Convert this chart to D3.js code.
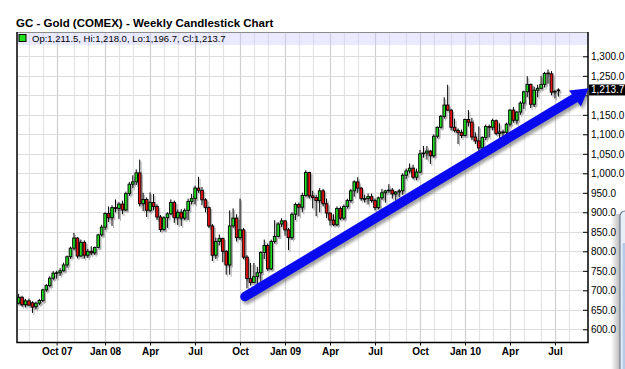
<!DOCTYPE html>
<html>
<head>
<meta charset="utf-8">
<script src="https://cdn.jsdelivr.net/npm/d3@7"></script>
<style>
body { margin: 0; background: #fff; }
svg { display: block; font-family: Arial, "Liberation Sans", sans-serif; }
</style>
</head>
<body>
<svg id="canvas" width="625" height="369"></svg>
<script>
// weekly bars, the first one is the week of Mon 16 Jul 2007
var firstWeek = new Date(2007, 6, 16);

var opens = [
	667,682,663,673,668,658,667,674,701,712,
	731,744,745,750,765,786,808,834,788,823,
	790,800,796,810,842,862,897,886,912,910,
	921,906,948,972,978,1001,922,933,905,925,
	915,888,856,886,896,925,886,900,885,905,
	928,935,962,956,932,912,865,790,825,833,
	800,765,865,885,835,855,785,730,720,735,
	745,797,815,755,825,838,870,878,855,835,
	895,920,913,943,1002,942,938,930,955,922,
	898,880,868,910,885,915,930,955,978,962,
	935,935,940,930,912,937,950,955,957,947,
	952,955,995,1006,1013,990,1003,1050,1052,1057,
	1045,1095,1118,1146,1175,1162,1118,1110,1105,1097,
	1138,1131,1093,1083,1065,1092,1120,1118,1135,1102,
	1106,1105,1126,1162,1136,1157,1180,1209,1228,1177,
	1213,1218,1228,1257,1255,1208,1211.5
];
var highs = [
	691,686,678,679,672,671,678,704,716,736,
	749,750,757,771,789,812,847,836,830,828,
	806,813,812,845,868,900,915,918,933,926,
	930,953,978,995,1010,1035,950,938,951,947,
	920,893,890,900,933,930,907,908,910,935,
	947,968,991,965,936,915,870,835,843,835,
	803,905,910,895,935,860,790,770,770,760,
	800,830,820,830,880,875,885,880,860,900,
	925,925,950,1008,1004,955,945,962,960,935,
	900,895,915,915,920,935,960,982,990,965,
	945,948,948,935,940,960,958,972,962,955,
	960,1000,1012,1025,1022,1012,1060,1070,1070,1060,
	1100,1120,1150,1195,1227,1165,1140,1115,1112,1140,
	1162,1142,1105,1120,1095,1125,1125,1140,1138,1128,
	1112,1130,1165,1170,1160,1185,1212,1249,1230,1222,
	1227,1250,1260,1266,1262,1214,1218
];
var lows = [
	664,658,656,660,642,651,662,670,696,708,
	726,730,737,748,758,781,803,782,786,781,
	783,790,791,808,838,855,875,865,900,883,
	895,903,942,962,970,915,903,888,900,905,
	880,850,853,860,893,873,867,865,880,880,
	920,920,950,918,900,860,775,780,815,772,
	740,740,860,825,830,780,705,712,718,710,
	712,780,750,752,820,836,862,840,803,830,
	880,890,900,940,935,910,890,900,915,885,
	866,865,865,880,880,910,925,940,950,930,
	925,920,925,905,908,932,925,950,935,930,
	938,945,985,1000,985,982,1000,1040,1035,1024,
	1040,1090,1115,1140,1160,1110,1105,1075,1090,1095,
	1120,1085,1075,1045,1060,1085,1092,1110,1098,1085,
	1085,1100,1120,1130,1125,1150,1165,1195,1167,1170,
	1195,1215,1220,1230,1200,1192,1196.7
];
var closes = [
	682,663,673,662,657,667,674,701,712,731,
	744,745,750,765,786,808,834,788,823,790,
	800,796,810,842,862,897,886,912,910,921,
	906,948,972,978,1001,922,933,905,925,915,
	888,856,886,896,925,886,900,885,905,928,
	935,962,956,932,912,865,790,825,833,800,
	765,865,885,835,855,785,730,720,735,745,
	797,815,755,825,838,870,878,855,835,895,
	920,913,943,1002,942,938,930,955,922,898,
	880,868,910,885,915,930,955,978,962,935,
	935,940,930,912,937,950,955,957,947,952,
	955,995,1006,1013,990,1003,1050,1052,1057,1045,
	1095,1118,1146,1175,1162,1118,1110,1105,1097,1138,
	1131,1093,1083,1065,1092,1120,1118,1135,1102,1106,
	1105,1126,1162,1136,1157,1180,1209,1228,1177,1213,
	1218,1228,1256,1255,1208,1210,1213.7
];

var yTickValues = [600,650,700,750,800,850,900,950,1000,1050,1100,1150,1200,1250,1300];
var xTickMonths = ['2007-10','2008-01','2008-04','2008-07','2008-10','2009-01','2009-04','2009-07','2009-10','2010-01','2010-04','2010-07'];
var xTickLabels = ['Oct 07','Jan 08','Apr','Jul','Oct','Jan 09','Apr','Jul','Oct','Jan 10','Apr','Jul'];

// trend arrow drawn on the chart, in date / price terms
var arrowFrom = [new Date(2008, 9, 16), 684];
var arrowTo = [new Date(2010, 7, 21), 1198];

var weeks = d3.timeMonday.range(firstWeek, d3.timeMonday.offset(firstWeek, opens.length));
var bars = weeks.map(function (d, i) {
	return {date: d, o: opens[i], h: highs[i], l: lows[i], c: closes[i]};
});
var last = bars[bars.length - 1];

var plot = {left: 17, right: 588, top: 32, bottom: 342.5};
var x = d3.scaleTime().domain([weeks[0], weeks[weeks.length - 1]]).range([18.6, 558.4]);
var y = d3.scaleLinear().domain([600, 1300]).range([329.3, 56.3]);
var fmt = d3.format(',.1f');
var firstMonday = function (m) { return d3.timeMonday.ceil(m); };

var svg = d3.select('#canvas');
var defs = svg.append('defs');
defs.append('clipPath').attr('id', 'plotClip').append('rect')
	.attr('x', plot.left).attr('y', plot.top)
	.attr('width', plot.right - plot.left).attr('height', plot.bottom - plot.top);
var blur = defs.append('filter').attr('id', 'shadow').attr('x', '-10%').attr('y', '-10%').attr('width', '130%').attr('height', '130%');
blur.append('feGaussianBlur').attr('stdDeviation', 1.6);
var grad = defs.append('linearGradient').attr('id', 'winShade');
grad.append('stop').attr('offset', '0%').attr('stop-color', '#000').attr('stop-opacity', 0);
grad.append('stop').attr('offset', '100%').attr('stop-color', '#000').attr('stop-opacity', 0.28);

// title
svg.append('text')
	.attr('x', 16).attr('y', 26.5)
	.style('font-size', '11.5px').style('font-weight', 'bold')
	.text('GC - Gold (COMEX) - Weekly Candlestick Chart');

var g = svg.append('g').attr('clip-path', 'url(#plotClip)');

// grid: one line per month, quarter months a bit darker
var months = d3.timeMonth.range(new Date(2007, 7, 1), new Date(2010, 8, 1));
g.append('g').selectAll('line')
	.data(months)
	.enter().append('line')
	.attr('x1', function (m) { return Math.round(x(firstMonday(m))) + 0.5; })
	.attr('x2', function (m) { return Math.round(x(firstMonday(m))) + 0.5; })
	.attr('y1', plot.top).attr('y2', plot.bottom)
	.attr('stroke', function (m) { return m.getMonth() % 3 === 0 ? '#cfcfcf' : '#e3e3e3'; })
	.attr('stroke-width', 1.2);
g.append('g').selectAll('line')
	.data(yTickValues)
	.enter().append('line')
	.attr('x1', plot.left).attr('x2', plot.right)
	.attr('y1', function (v) { return Math.round(y(v)) + 0.5; })
	.attr('y2', function (v) { return Math.round(y(v)) + 0.5; })
	.attr('stroke', '#dcdcdc').attr('stroke-width', 1.2);

// candles: a grey shadow first, then wick and body
var bodyW = 2.6;
var drawCandles = function (layer, shadow) {
	var c = layer.selectAll('g')
		.data(bars)
		.enter().append('g')
		.attr('transform', function (d) { return 'translate(' + x(d.date) + ',0)'; });
	c.append('line')
		.attr('x1', 0).attr('x2', 0)
		.attr('y1', function (d) { return y(d.h); })
		.attr('y2', function (d) { return y(d.l); })
		.attr('stroke', shadow ? '#9a9a9a' : '#000').attr('stroke-width', 1);
	c.append('rect')
		.attr('x', -bodyW / 2)
		.attr('width', bodyW)
		.attr('y', function (d) { return y(Math.max(d.o, d.c)); })
		.attr('height', function (d) { return Math.max(0.8, Math.abs(y(d.o) - y(d.c))); })
		.attr('fill', function (d) { return shadow ? '#9a9a9a' : (d.c >= d.o ? '#1fe01f' : '#ee1010'); })
		.attr('stroke', shadow ? '#9a9a9a' : '#000').attr('stroke-width', 0.9);
};
drawCandles(g.append('g').attr('transform', 'translate(1.5,2)').attr('opacity', 0.75), true);
drawCandles(g.append('g'), false);

// legend bar over the top of the plot
svg.append('rect')
	.attr('x', plot.left).attr('y', plot.top)
	.attr('width', plot.right - plot.left).attr('height', 13)
	.attr('fill', '#c8c8ff').attr('fill-opacity', 0.4);
svg.append('line')
	.attr('x1', plot.left).attr('x2', plot.right)
	.attr('y1', plot.top + 0.5).attr('y2', plot.top + 0.5)
	.attr('stroke', '#8c8c8c');
svg.append('rect')
	.attr('x', 19).attr('y', 34.5).attr('width', 7).attr('height', 7)
	.attr('fill', '#1fe01f').attr('stroke', '#000').attr('stroke-width', 1);
svg.append('text')
	.attr('x', 32).attr('y', 42)
	.style('font-size', '9.5px')
	.text('Op:' + fmt(last.o) + ', Hi:' + fmt(last.h) + ', Lo:' + fmt(last.l) + ', Cl:' + fmt(last.c));

// axes; a label that the last price tag covers is left out
var tagTop = y(last.c) - 5.5, tagBottom = y(last.c) + 5.5;
var yAxis = svg.append('g')
	.attr('transform', 'translate(' + plot.right + ',0)')
	.call(d3.axisRight(y).tickValues(yTickValues).tickFormat(fmt).tickSize(-5).tickPadding(3));
yAxis.select('.domain').remove();
yAxis.selectAll('text').style('font-size', '10px').attr('fill', '#000').style('font-family', 'Arial, "Liberation Sans", sans-serif');
yAxis.selectAll('.tick').filter(function (v) { return y(v) + 5 > tagTop && y(v) - 5 < tagBottom; })
	.select('text').remove();

var xTicks = xTickMonths.map(function (s) { return firstMonday(d3.timeParse('%Y-%m')(s)); });
var xAxis = svg.append('g')
	.attr('transform', 'translate(0,' + plot.bottom + ')')
	.call(d3.axisBottom(x).tickValues(xTicks).tickFormat(function (d, i) { return xTickLabels[i]; }).tickSize(3).tickPadding(2.5));
xAxis.select('.domain').remove();
xAxis.selectAll('text').style('font-size', '10px').style('font-weight', 'bold').attr('fill', '#000').style('font-family', 'Arial, "Liberation Sans", sans-serif');

svg.append('path')
	.attr('d', 'M' + plot.left + ',' + plot.top + 'V' + plot.bottom + 'H' + plot.right + 'V' + plot.top)
	.attr('fill', 'none').attr('stroke', '#000').attr('stroke-width', 1.5);

// last price tag
svg.append('rect')
	.attr('x', plot.right + 1).attr('y', tagTop)
	.attr('width', 36).attr('height', tagBottom - tagTop).attr('fill', '#000');
svg.append('text')
	.attr('x', plot.right + 3).attr('y', y(last.c)).attr('dy', '0.35em')
	.attr('fill', '#fff').style('font-size', '10px')
	.text(fmt(last.c));

// blue trend arrow
var p0 = [x(arrowFrom[0]), y(arrowFrom[1])];
var p1 = [x(arrowTo[0]), y(arrowTo[1])];
var ang = Math.atan2(p1[1] - p0[1], p1[0] - p0[0]) - 0.1;
var ux = Math.cos(ang), uy = Math.sin(ang);
var tip = [p1[0] + 13 * ux, p1[1] + 13 * uy];
var base = [tip[0] - 17 * ux, tip[1] - 17 * uy];
var head = [tip, [base[0] - 10 * uy, base[1] + 10 * ux], [base[0] + 10 * uy, base[1] - 10 * ux]];
var drawArrow = function (layer, color) {
	layer.append('line')
		.attr('x1', p0[0]).attr('y1', p0[1]).attr('x2', p1[0]).attr('y2', p1[1])
		.attr('stroke', color).attr('stroke-width', 9.5).attr('stroke-linecap', 'round');
	layer.append('path')
		.attr('d', 'M' + head.join('L') + 'Z')
		.attr('fill', color);
};
drawArrow(svg.append('g').attr('transform', 'translate(2,3)').attr('filter', 'url(#shadow)').attr('opacity', 0.55), '#555');
drawArrow(svg.append('g'), '#0a0af0');

// edge of another window in the screenshot, bottom right
svg.append('rect').attr('x', 611).attr('y', 214).attr('width', 9).attr('height', 160).attr('fill', 'url(#winShade)');
svg.append('rect').attr('x', 620).attr('y', 211).attr('width', 30).attr('height', 170).attr('rx', 5)
	.attr('fill', '#e9eff8').attr('stroke', '#6f7d92').attr('stroke-width', 1.2);
svg.append('rect').attr('x', 622.5).attr('y', 243).attr('width', 10).attr('height', 130).attr('fill', '#b6cbe8');
</script>
</body>
</html>
